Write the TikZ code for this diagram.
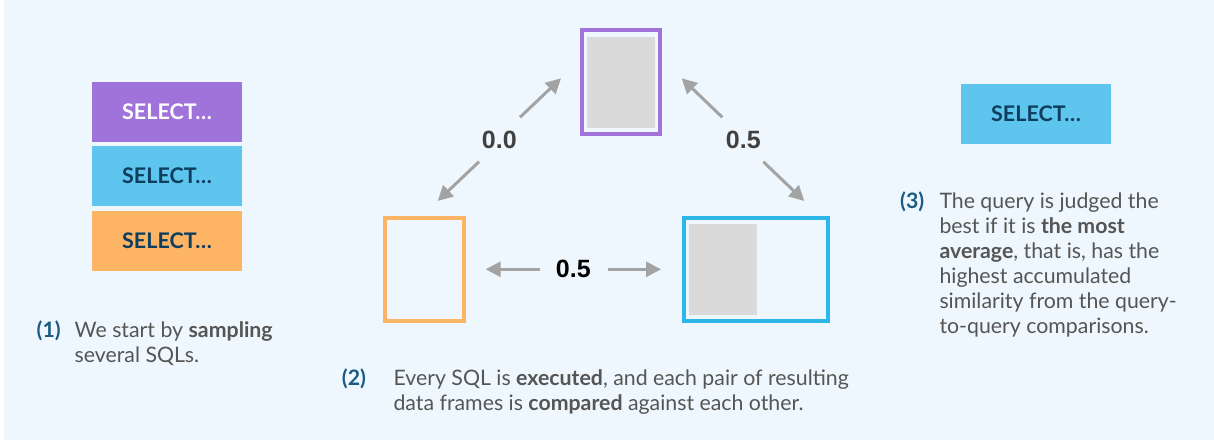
\documentclass[tikz,border=0pt]{standalone}
\usepackage{fontspec}
\setmainfont{Lato}
\newfontfamily\numfont{Liberation Sans}
\usetikzlibrary{arrows.meta}
\definecolor{bg}{HTML}{EDF7FD}
\definecolor{cpurple}{HTML}{A073DA}
\definecolor{cblue}{HTML}{5EC6EE}
\definecolor{cblueline}{HTML}{2DB6E8}
\definecolor{corange}{HTML}{FDB565}
\definecolor{cdark}{HTML}{0E3D5E}
\definecolor{cnum}{HTML}{1B5A85}
\definecolor{ctext}{HTML}{555555}
\definecolor{cgrey}{HTML}{DADADA}
\definecolor{carrow}{HTML}{A3A3A3}
\tikzset{
  selbox/.style={minimum width=150pt, minimum height=60pt, inner sep=0pt, font=\fontsize{21.5}{25}\selectfont\bfseries},
  frame/.style={draw, line width=4pt, inner sep=0pt},
  datacell/.style={fill=cgrey, draw=none, inner sep=0pt},
  arr/.style={draw=carrow, line width=3pt, -{Triangle[length=15pt,width=15pt]}},
  num/.style={font=\numfont\fontsize{25}{28}\selectfont\bfseries, inner sep=0pt},
  steplabel/.style={font=\fontsize{21.3}{25}\selectfont\bfseries, text=cnum, inner sep=0pt, anchor=base west},
  para/.style={font=\fontsize{21.3}{25}\selectfont, text=ctext, inner sep=0pt, anchor=base west, align=left}
}
\begin{document}
\begin{tikzpicture}[x=1pt,y=-1pt]
\useasboundingbox (0,0) rectangle (1214,441);
\fill[white] (0,0) rectangle (1214,441);
\fill[bg] (4,0) rectangle (1214,440);
% left stack
\node[selbox, fill=cpurple, text=white] (s1) at (167,112) {SELECT\ldots};
\node[selbox, fill=cblue, text=cdark] (s2) at (167,176) {SELECT\ldots};
\node[selbox, fill=corange, text=cdark] (s3) at (167,241) {SELECT\ldots};
\node[steplabel] (l1) at (36.5,337) {(1)};
\node[para] (t1) at (74.5,362) {We start by \textbf{sampling}\\several SQLs.};
% frames
\node[frame, draw=cpurple, minimum width=78pt, minimum height=104pt] (ftop) at (620.8,82) {};
\node[datacell, minimum width=68.3pt, minimum height=91pt] (gtop) at (620.8,82.2) {};
\node[frame, draw=corange, minimum width=78.5pt, minimum height=102.7pt] (fleft) at (424.5,269.3) {};
\node[frame, draw=cblueline, minimum width=144.3pt, minimum height=102.7pt] (fright) at (755.8,269.3) {};
\node[datacell, minimum width=67.4pt, minimum height=90.7pt] (gright) at (723,269.3) {};
% labels
\node[num, text=black!75] (n1) at (499.3,140) {0.0};
\node[num, text=black!75] (n2) at (743.3,140) {0.5};
\node[num, text=black] (n3) at (573.3,269.3) {0.5};
% arrow end points
\coordinate (a1s) at (520,117.3); \coordinate (a1e) at (561,78.3);
\coordinate (a2s) at (479,161.7); \coordinate (a2e) at (437.7,201);
\coordinate (a3s) at (722.3,117.3); \coordinate (a3e) at (681.7,78.3);
\coordinate (a4s) at (763.3,161.7); \coordinate (a4e) at (804.3,201);
\coordinate (a5s) at (540,269.3); \coordinate (a5e) at (485.7,269.3);
\coordinate (a6s) at (607.7,269.3); \coordinate (a6e) at (661,269.3);
\draw[arr] (a1s) -- (a1e);
\draw[arr] (a2s) -- (a2e);
\draw[arr] (a3s) -- (a3e);
\draw[arr] (a4s) -- (a4e);
\draw[arr] (a5s) -- (a5e);
\draw[arr] (a6s) -- (a6e);
\node[steplabel] (l2) at (341.7,385) {(2)};
\node[para] (t2) at (393.3,410) {Every SQL is \textbf{executed}, and each pair of resulting\\data frames is \textbf{compared} against each other.};
% right
\node[selbox, fill=cblue, text=cdark] (s4) at (1036,114) {SELECT\ldots};
\node[steplabel] (l3) at (900,208.3) {(3)};
\node[para] (t3) at (939.3,333.3) {The query is judged the\\best if it is \textbf{the most}\\\textbf{average}, that is, has the\\highest accumulated\\similarity from the query-\\to-query comparisons.};
\end{tikzpicture}
\end{document}
